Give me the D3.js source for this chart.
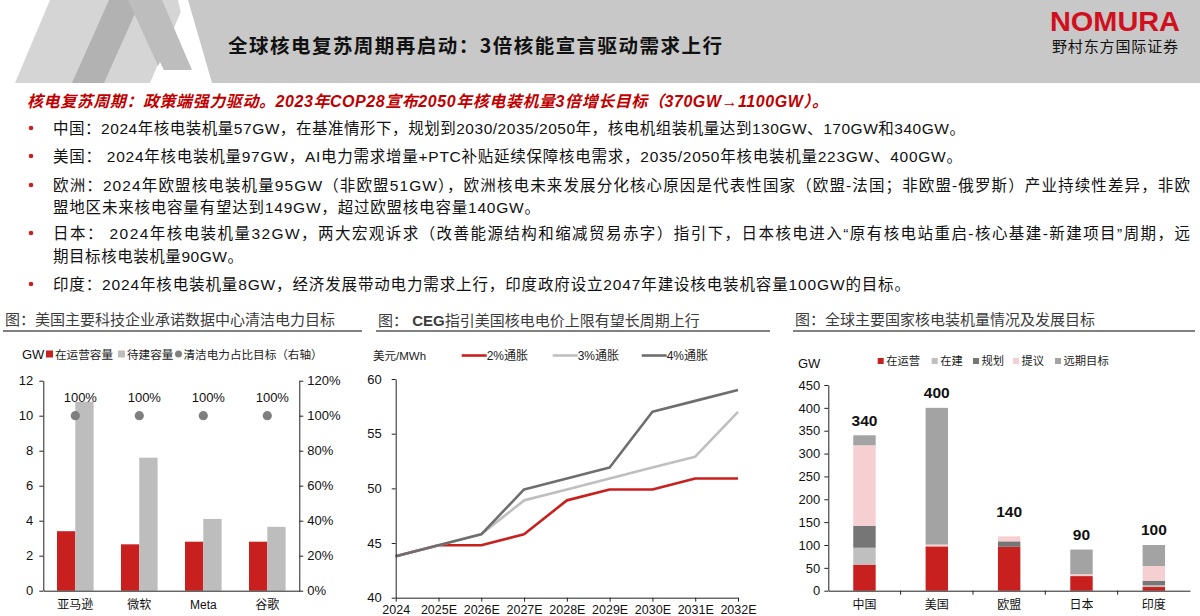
<!DOCTYPE html>
<html><head><meta charset="utf-8">
<script src="https://cdn.jsdelivr.net/npm/d3@7"></script>
<style>body{margin:0;background:#fff}svg{display:block}</style>
</head><body><svg id="c" width="1200" height="616"></svg>
<script>
// ---------------- DATA ----------------
const pageTitle = "全球核电复苏周期再启动：3倍核能宣言驱动需求上行";
const headline = "核电复苏周期：政策端强力驱动。2023年COP28宣布2050年核电装机量3倍增长目标（370GW→1100GW）。";
const bulletLines = [
  "中国：2024年核电装机量57GW，在基准情形下，规划到2030/2035/2050年，核电机组装机量达到130GW、170GW和340GW。",
  "美国： 2024年核电装机量97GW，AI电力需求增量+PTC补贴延续保障核电需求，2035/2050年核电装机量223GW、400GW。",
  "欧洲：2024年欧盟核电装机量95GW（非欧盟51GW），欧洲核电未来发展分化核心原因是代表性国家（欧盟-法国；非欧盟-俄罗斯）产业持续性差异，非欧",
  "盟地区未来核电容量有望达到149GW，超过欧盟核电容量140GW。",
  "日本： 2024年核电装机量32GW，两大宏观诉求（改善能源结构和缩减贸易赤字）指引下，日本核电进入“原有核电站重启-核心基建-新建项目”周期，远",
  "期目标核电装机量90GW。",
  "印度：2024年核电装机量8GW，经济发展带动电力需求上行，印度政府设立2047年建设核电装机容量100GW的目标。"
];
const bulletFlags = [true, true, true, false, true, false, true];

// chart 1
const chart1Title = "图：美国主要科技企业承诺数据中心清洁电力目标";
const techCompanies = ["亚马逊", "微软", "Meta", "谷歌"];
const operatingGW = [3.4, 2.65, 2.8, 2.8];
const pendingGW = [10.8, 7.6, 4.1, 3.65];
const cleanTarget = [1.0, 1.0, 1.0, 1.0];
const chart1Legend = ["在运营容量", "待建容量", "清洁电力占比目标（右轴）"];
const chart1LeftTicks = [0, 2, 4, 6, 8, 10, 12];
const chart1RightTicks = [0, 0.2, 0.4, 0.6, 0.8, 1.0, 1.2];

// chart 2
const chart2TitleA = "图： ";
const chart2TitleB = "CEG";
const chart2TitleC = "指引美国核电电价上限有望长周期上行";
const years = ["2024", "2025E", "2026E", "2027E", "2028E", "2029E", "2030E", "2031E", "2032E"];
const price2pct = [43.8, 44.8, 44.8, 45.8, 48.9, 49.9, 49.9, 50.9, 50.9];
const price3pct = [43.8, 44.8, 45.8, 48.9, 49.9, 50.9, 51.9, 52.9, 57.0];
const price4pct = [43.8, 44.8, 45.8, 49.9, 50.9, 51.9, 57.0, 58.0, 59.0];
const priceNames = ["2%通胀", "3%通胀", "4%通胀"];
const priceTicks = [40, 45, 50, 55, 60];
const priceUnit = "美元/MWh";

// chart 3
const chart3Title = "图：全球主要国家核电装机量情况及发展目标";
const countries = ["中国", "美国", "欧盟", "日本", "印度"];
const stackKeys = ["在运营", "在建", "规划", "提议", "远期目标"];
const gwOperating = [57, 97, 96, 32, 8];
const gwConstruction = [37, 0, 0, 0, 4];
const gwPlanned = [48, 0, 12, 0, 10];
const gwProposed = [176, 4, 11, 4, 32];
const gwLongTerm = [22, 299, 0, 54, 46];
const targetTotals = [340, 400, 140, 90, 100];
const gwTicks = [0, 50, 100, 150, 200, 250, 300, 350, 400, 450];

// ---------------- DRAW ----------------
const F = "'Liberation Sans','Noto Sans CJK SC',sans-serif";
const RED = "#c8201f";
const svg = d3.select("#c");

// header band
svg.append("rect").attr("x", 0).attr("y", 0).attr("width", 1200).attr("height", 83).attr("fill", "#c8c8c8");
const deco = [
  {p: [[0,0],[182,0],[212,83],[0,83]], c: "#ffffff"},
  {p: [[15,83],[150,83],[186,0],[50,0]], c: "#d5d5d5"},
  {p: [[72,83],[104,83],[141,0],[109,0]], c: "#b2b2b2"},
  {p: [[128,0],[162,0],[192,70],[160,70]], c: "#bdbdbd"},
  {p: [[150,83],[160,62],[170,83]], c: "#ffffff"},
  {p: [[178,0],[188,0],[212,83],[197,83]], c: "#ffffff"}
];
svg.selectAll("polygon.deco").data(deco).join("polygon").attr("class", "deco")
  .attr("points", d => d.p.map(q => q.join(",")).join(" ")).attr("fill", d => d.c);

svg.append("text").attr("x", 228).attr("y", 44).attr("dominant-baseline", "central")
  .attr("font-family", "'Noto Sans CJK SC',sans-serif").attr("font-weight", 700).attr("font-size", 19.5)
  .attr("textLength", 494).attr("lengthAdjust", "spacing").attr("fill", "#111").text(pageTitle);

svg.append("text").attr("x", 1115).attr("y", 21).attr("dominant-baseline", "central").attr("text-anchor", "middle")
  .attr("font-family", "'Liberation Sans Narrow','Liberation Sans',sans-serif").attr("font-weight", 700).attr("font-size", 28)
  .attr("textLength", 130).attr("lengthAdjust", "spacingAndGlyphs").attr("fill", "#d0101e").text("NOMURA");
svg.append("text").attr("x", 1115).attr("y", 45).attr("dominant-baseline", "central").attr("text-anchor", "middle")
  .attr("font-family", "'Noto Sans CJK SC',sans-serif").attr("font-size", 15)
  .attr("textLength", 126).attr("lengthAdjust", "spacing").attr("fill", "#111").text("野村东方国际证券");

// headline & bullets
svg.append("text").attr("x", 27).attr("y", 101).attr("dominant-baseline", "central")
  .attr("font-family", F).attr("font-weight", 700).attr("font-style", "italic").attr("font-size", 16)
  .attr("textLength", 801).attr("lengthAdjust", "spacing").attr("fill", "#c00000").text(headline);

const lineY = [128, 156, 185, 207, 233, 256, 284];
const lineW = [912, 909, 1137, 487, 1137, 190, 857];
bulletLines.forEach((t, i) => {
  if (bulletFlags[i]) svg.append("circle").attr("cx", 31).attr("cy", lineY[i]).attr("r", 2.3).attr("fill", RED);
  svg.append("text").attr("x", 53).attr("y", lineY[i]).attr("dominant-baseline", "central")
    .attr("font-family", F).attr("font-size", 15.5).attr("fill", "#111")
    .attr("textLength", lineW[i]).attr("lengthAdjust", "spacing").text(t);
});

// chart titles + underlines
function chartTitle(x, y, x1, x2, parts) {
  const t = svg.append("text").attr("x", x).attr("y", y).attr("dominant-baseline", "central")
    .attr("font-family", F).attr("font-size", 15).attr("fill", "#3c3c3c");
  parts.forEach(p => t.append("tspan").attr("font-weight", p.b ? 700 : 400).text(p.t));
  svg.append("line").attr("x1", x1).attr("x2", x2).attr("y1", 331).attr("y2", 331)
    .attr("stroke", "#808080").attr("stroke-width", 2);
}
chartTitle(5, 318.5, 3, 362, [{t: chart1Title}]);
chartTitle(378, 319.5, 376, 770, [{t: chart2TitleA}, {t: chart2TitleB, b: true}, {t: chart2TitleC}]);
chartTitle(795, 318.5, 793, 1195, [{t: chart3Title}]);

function styleAxis(g, size) {
  g.selectAll("path,line").attr("stroke", "#222").attr("stroke-width", 1);
  g.selectAll("text").attr("font-family", F).attr("font-size", size || 13).attr("fill", "#111");
}

// ---------- Chart 1 ----------
{
  const x = d3.scaleBand().domain(techCompanies).range([43.3, 299.3]);
  const yL = d3.scaleLinear().domain([0, 12]).range([590.7, 380.7]);
  const yR = d3.scaleLinear().domain([0, 1.2]).range([590.7, 380.7]);
  const bw = x.bandwidth() * 0.286;
  const g = svg.append("g");
  g.selectAll("rect.op").data(techCompanies).join("rect")
    .attr("x", (d) => x(d) + x.bandwidth() / 2 - bw).attr("width", bw)
    .attr("y", (d, i) => yL(operatingGW[i])).attr("height", (d, i) => yL(0) - yL(operatingGW[i])).attr("fill", RED);
  g.selectAll("rect.pd").data(techCompanies).join("rect")
    .attr("x", (d) => x(d) + x.bandwidth() / 2).attr("width", bw)
    .attr("y", (d, i) => yL(pendingGW[i])).attr("height", (d, i) => yL(0) - yL(pendingGW[i])).attr("fill", "#bdbdbd");
  g.selectAll("circle.tg").data(techCompanies).join("circle")
    .attr("cx", d => x(d) + x.bandwidth() / 2).attr("cy", (d, i) => yR(cleanTarget[i])).attr("r", 4.6).attr("fill", "#7f7f7f");
  g.selectAll("text.tg").data(techCompanies).join("text")
    .attr("x", d => x(d) + x.bandwidth() / 2 + 5).attr("y", (d, i) => yR(cleanTarget[i]) - 18)
    .attr("text-anchor", "middle").attr("dominant-baseline", "central")
    .attr("font-family", F).attr("font-size", 13).attr("fill", "#111")
    .text((d, i) => d3.format(".0%")(cleanTarget[i]));

  const ax = svg.append("g").attr("transform", "translate(0,590.7)")
    .call(d3.axisBottom(x).tickSize(0).tickPadding(10));
  styleAxis(ax, 12);
  ax.selectAll("text").attr("dy", "0.7em");
  const al = svg.append("g").attr("transform", "translate(43.3,0)")
    .call(d3.axisLeft(yL).tickValues(chart1LeftTicks).tickSize(4).tickPadding(6).tickSizeOuter(0));
  styleAxis(al);
  const ar = svg.append("g").attr("transform", "translate(299.3,0)")
    .call(d3.axisRight(yR).tickValues(chart1RightTicks).tickFormat(d3.format(".0%")).tickSize(4).tickPadding(4).tickSizeOuter(0));
  styleAxis(ar);

  // legend
  const ly = 354;
  svg.append("text").attr("x", 22).attr("y", ly).attr("dominant-baseline", "central")
    .attr("font-family", F).attr("font-size", 13).attr("fill", "#111").text("GW");
  svg.append("rect").attr("x", 46).attr("y", ly - 3.5).attr("width", 7).attr("height", 7).attr("fill", RED);
  svg.append("text").attr("x", 55).attr("y", ly).attr("dominant-baseline", "central")
    .attr("font-family", F).attr("font-size", 11.6).attr("fill", "#222").text(chart1Legend[0]);
  svg.append("rect").attr("x", 118).attr("y", ly - 3.5).attr("width", 7).attr("height", 7).attr("fill", "#bdbdbd");
  svg.append("text").attr("x", 127).attr("y", ly).attr("dominant-baseline", "central")
    .attr("font-family", F).attr("font-size", 11.6).attr("fill", "#222").text(chart1Legend[1]);
  svg.append("circle").attr("cx", 178.5).attr("cy", ly).attr("r", 3.5).attr("fill", "#7f7f7f");
  svg.append("text").attr("x", 183.5).attr("y", ly).attr("dominant-baseline", "central")
    .attr("font-family", F).attr("font-size", 11.6).attr("fill", "#222").text(chart1Legend[2]);
}

// ---------- Chart 2 ----------
{
  const x = d3.scalePoint().domain(years).range([395.7, 738]);
  const y = d3.scaleLinear().domain([40, 60]).range([597.7, 379]);
  const series = [
    {name: priceNames[0], v: price2pct, c: RED},
    {name: priceNames[1], v: price3pct, c: "#bfbfbf"},
    {name: priceNames[2], v: price4pct, c: "#6e6e6e"}
  ];
  const line = d3.line().x((d, i) => x(years[i])).y(d => y(d));
  svg.append("g").selectAll("path").data(series).join("path")
    .attr("d", d => line(d.v)).attr("fill", "none").attr("stroke", d => d.c)
    .attr("stroke-width", 2.6).attr("stroke-linejoin", "round");

  const ax = svg.append("g").attr("transform", "translate(0,597.7)")
    .call(d3.axisBottom(x).tickSize(4).tickPadding(3).tickSizeOuter(0));
  styleAxis(ax, 12.5);
  const ay = svg.append("g").attr("transform", "translate(395.7,0)")
    .call(d3.axisLeft(y).tickValues(priceTicks).tickSize(4).tickPadding(10).tickSizeOuter(0));
  styleAxis(ay);

  const ly = 355.5;
  svg.append("text").attr("x", 373).attr("y", ly).attr("dominant-baseline", "central")
    .attr("font-family", F).attr("font-size", 11.5).attr("fill", "#222").text(priceUnit);
  const lx = [461.7, 552.7, 641.7];
  series.forEach((s, i) => {
    svg.append("line").attr("x1", lx[i]).attr("x2", lx[i] + 25).attr("y1", ly).attr("y2", ly)
      .attr("stroke", s.c).attr("stroke-width", 2.6);
    svg.append("text").attr("x", lx[i] + 25).attr("y", ly).attr("dominant-baseline", "central")
      .attr("font-family", F).attr("font-size", 12).attr("fill", "#222").text(s.name);
  });
}

// ---------- Chart 3 ----------
{
  const x = d3.scaleBand().domain(countries).range([828.3, 1190]).paddingInner(0.69).paddingOuter(0.345);
  const y = d3.scaleLinear().domain([0, 450]).range([590.7, 385]);
  const colors = [RED, "#bfbfbf", "#767676", "#f6cfd2", "#a3a3a3"];
  const rows = countries.map((c, i) => ({
    c, [stackKeys[0]]: gwOperating[i], [stackKeys[1]]: gwConstruction[i], [stackKeys[2]]: gwPlanned[i],
    [stackKeys[3]]: gwProposed[i], [stackKeys[4]]: gwLongTerm[i]
  }));
  const stacked = d3.stack().keys(stackKeys)(rows);
  svg.append("g").selectAll("g").data(stacked).join("g").attr("fill", (d, i) => colors[i])
    .selectAll("rect").data(d => d).join("rect")
    .attr("x", d => x(d.data.c)).attr("width", x.bandwidth())
    .attr("y", d => y(d[1])).attr("height", d => y(d[0]) - y(d[1]));

  svg.append("g").selectAll("text").data(countries).join("text")
    .attr("x", d => x(d) + x.bandwidth() / 2).attr("y", (d, i) => y(targetTotals[i]) - 15)
    .attr("text-anchor", "middle").attr("dominant-baseline", "central")
    .attr("font-family", F).attr("font-weight", 700).attr("font-size", 15.5).attr("fill", "#111")
    .text((d, i) => targetTotals[i]);

  const ax = svg.append("g").attr("transform", "translate(0,590.7)")
    .call(d3.axisBottom(x).tickSize(0).tickPadding(10).tickSizeOuter(0));
  styleAxis(ax, 12);
  ax.selectAll("text").attr("dy", "0.7em");
  ax.selectAll("line.b").data(countries.slice(1)).join("line").attr("class", "b")
    .attr("x1", d => x(d) - x.step() * x.paddingInner() / 2).attr("x2", d => x(d) - x.step() * x.paddingInner() / 2)
    .attr("y1", 0).attr("y2", 4).attr("stroke", "#222");
  const ay = svg.append("g").attr("transform", "translate(828.3,0)")
    .call(d3.axisLeft(y).tickValues(gwTicks).tickSize(4).tickPadding(4).tickSizeOuter(0));
  styleAxis(ay);

  svg.append("text").attr("x", 798).attr("y", 363).attr("dominant-baseline", "central")
    .attr("font-family", F).attr("font-size", 13).attr("fill", "#111").text("GW");
  const lx = [877.7, 931.7, 973, 1013, 1055];
  stackKeys.forEach((k, i) => {
    svg.append("rect").attr("x", lx[i]).attr("y", 361 - 3).attr("width", 6).attr("height", 6).attr("fill", colors[i]);
    svg.append("text").attr("x", lx[i] + 8.5).attr("y", 361).attr("dominant-baseline", "central")
      .attr("font-family", F).attr("font-size", 11.3).attr("fill", "#222").text(k);
  });
}
</script></body></html>
